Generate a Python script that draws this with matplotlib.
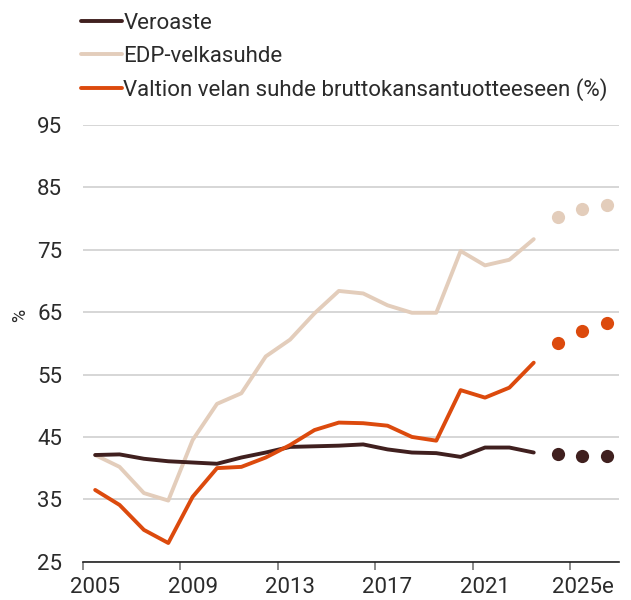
import matplotlib.pyplot as plt
import numpy as np

plt.rcParams['font.family'] = ['Roboto', 'DejaVu Sans']

# years of the line part and the estimate dots
years = list(range(2005, 2024))
est_years = [2024, 2025, 2026]

veroaste = [42.1, 42.2, 41.5, 41.1, 40.9, 40.7, 41.7, 42.5, 43.4, 43.5,
            43.6, 43.8, 43.0, 42.5, 42.4, 41.8, 43.3, 43.3, 42.5]
veroaste_est = [42.2, 42.0, 41.9]

edp = [42.1, 40.2, 36.0, 34.8, 44.5, 50.3, 52.0, 57.9, 60.6, 64.8,
       68.4, 68.0, 66.1, 64.9, 64.9, 74.8, 72.5, 73.4, 76.7]
edp_est = [80.3, 81.5, 82.1]

valtio = [36.5, 34.1, 30.1, 28.0, 35.4, 40.0, 40.2, 41.7, 43.7, 46.1,
          47.3, 47.2, 46.8, 45.0, 44.4, 52.5, 51.3, 52.9, 56.9]
valtio_est = [60.1, 62.0, 63.2]

labels = ['Veroaste', 'EDP-velkasuhde',
          'Valtion velan suhde bruttokansantuotteeseen (%)']
colors = ['#40201f', '#e3cdbb', '#dc4a0d']

tick_years = [2005, 2009, 2013, 2017, 2021, 2025]
tick_labels = ['2005', '2009', '2013', '2017', '2021', '2025e']
yticks = [25, 35, 45, 55, 65, 75, 85, 95]

fs = 16
txt = '#2b2b2b'
fig = plt.figure(figsize=(6.31, 6.0), dpi=100)
ax = fig.add_axes([83/631, 1 - 561.7/600, (619-83)/631, (561.7-125)/600])

series = [(veroaste, veroaste_est), (edp, edp_est), (valtio, valtio_est)]
handles = {}
# draw beige first so the dark and orange lines sit on top
for i in [1, 0, 2]:
    vals, est = series[i]
    handles[i], = ax.plot(np.array(years) + 0.5, vals, color=colors[i], lw=2.8,
                          solid_capstyle='round', zorder=3)
    ax.plot(np.array(est_years) + 0.5, est, 'o', color=colors[i],
            ms=9.5, mec='none', zorder=3)

ax.set_xlim(2005, 2027)
ax.set_ylim(25, 95)
ax.set_yticks(yticks)
ax.set_yticklabels([str(v) for v in yticks])
ax.yaxis.grid(True, color='#cccccc', lw=1.1)
ax.set_axisbelow(True)
ax.tick_params(axis='y', length=0, pad=15, labelsize=fs, labelcolor=txt)

ax.set_xticks(tick_years)
ax.set_xticklabels([])
ax.set_xticks(np.array(tick_years) + 0.5, minor=True)
ax.set_xticklabels(tick_labels, minor=True)
ax.tick_params(axis='x', which='major', length=6, color='#777777', width=1.2)
ax.tick_params(axis='x', which='minor', length=0, pad=11, labelsize=fs,
               labelcolor=txt)

for s in ['top', 'right', 'left']:
    ax.spines[s].set_visible(False)
ax.spines['bottom'].set_color('#222222')
ax.spines['bottom'].set_linewidth(1.2)

fig.text(20/631, 1 - 315/600, '%', rotation=90, fontsize=13,
         color=txt, ha='center', va='center')

fig.legend([handles[i] for i in range(3)], labels, loc='upper left',
           bbox_to_anchor=(61/631, 1 + 7/600), frameon=False,
           fontsize=fs, handlelength=1.85, handletextpad=0.05,
           labelspacing=0.52, labelcolor=txt)

fig.savefig('out.png', dpi=100)
